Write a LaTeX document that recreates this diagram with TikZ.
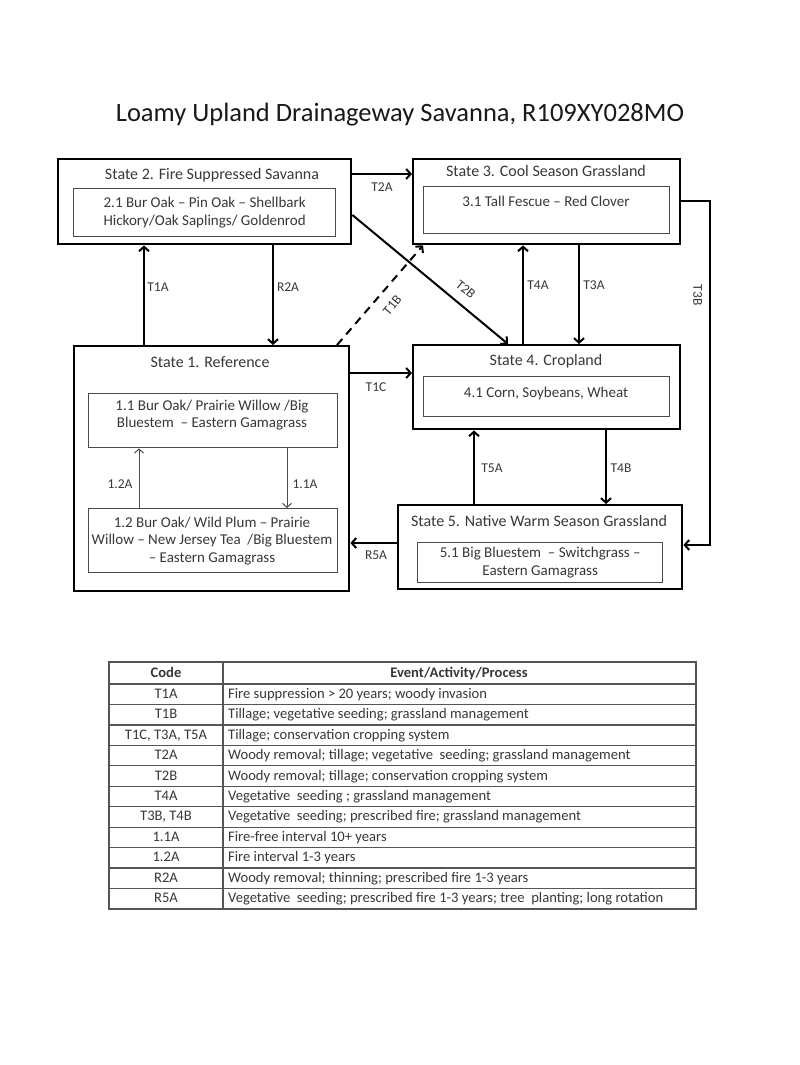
\documentclass[tikz,border=0pt]{standalone}
\usepackage{fontspec}
\setmainfont{Carlito}
\usetikzlibrary{arrows.meta}
\definecolor{txt}{HTML}{383838}
\definecolor{ibox}{HTML}{4A4A4A}
\definecolor{tline}{HTML}{555555}
\newcommand{\TitleFont}{\fontsize{26.5}{30}\selectfont}
\newcommand{\StateFont}{\fontsize{16}{18}\selectfont}
\newcommand{\InFont}{\fontsize{15}{17.8}\selectfont}
\newcommand{\LabFont}{\fontsize{13.5}{15}\selectfont}
\newcommand{\TabFont}{\fontsize{14.6}{16}\selectfont}
\tikzset{
  statebox/.style={draw=black, line width=2.4pt, anchor=north west, inner sep=0pt},
  innerbox/.style={draw=ibox, line width=1.4pt, anchor=north west, inner sep=0pt},
  stitle/.style={text=txt, font=\StateFont, inner sep=0pt, text height=11.5pt, text depth=3.5pt},
  itext/.style={text=txt, font=\InFont, align=center, inner sep=0pt},
  lab/.style={text=txt, font=\LabFont, inner sep=0pt, text height=9.5pt, text depth=0pt},
  arr/.style={line width=2pt, -{Straight Barb[length=4.5pt,width=10pt,line width=2pt]}},
  thinarr/.style={line width=1pt, draw=ibox, -{Straight Barb[length=4pt,width=9pt,line width=1pt]}},
  tcell/.style={text=txt, font=\TabFont, inner sep=0pt, text height=10.5pt, text depth=3pt},
}
\begin{document}
\begin{tikzpicture}[x=1pt,y=-1pt]
\useasboundingbox (0,0) rectangle (800,1065);
\fill[white] (0,0) rectangle (800,1065);

\node[text=black!90, font=\TitleFont, inner sep=0pt] (title) at (400,115) {Loamy Upland Drainageway Savanna, R109XY028MO};

% State 2
\node[statebox, minimum width=293pt, minimum height=85pt] (s2) at (57,158) {};
\node[stitle] (s2t) at (212,175) {State 2. Fire Suppressed Savanna};
\node[innerbox, minimum width=262pt, minimum height=48pt] (s21) at (73,188) {};
\node[itext] (s21t) at (s21.center) {2.1 Bur Oak -- Pin Oak -- Shellbark\\Hickory/Oak Saplings/ Goldenrod};

% State 3
\node[statebox, minimum width=267pt, minimum height=85pt] (s3) at (412,158) {};
\node[stitle] (s3t) at (546,172) {State 3. Cool Season Grassland};
\node[innerbox, minimum width=246pt, minimum height=47pt] (s31) at (423,186) {};
\node[itext] (s31t) at (546,201) {3.1 Tall Fescue -- Red Clover};

% State 1
\node[statebox, minimum width=275pt, minimum height=245pt] (s1) at (73,345) {};
\node[stitle] (s1t) at (210,363) {State 1. Reference};
\node[innerbox, minimum width=249pt, minimum height=54pt] (s11) at (88,393) {};
\node[itext] (s11t) at (212,415) {1.1 Bur Oak/ Prairie Willow /Big\\Bluestem \ -- Eastern Gamagrass};
\node[innerbox, minimum width=249pt, minimum height=64pt] (s12) at (88,508) {};
\node[itext] (s12t) at (212,541) {1.2 Bur Oak/ Wild Plum -- Prairie\\Willow -- New Jersey Tea \ /Big Bluestem\\-- Eastern Gamagrass};

% State 4
\node[statebox, minimum width=267pt, minimum height=84pt] (s4) at (412,344) {};
\node[stitle] (s4t) at (546,361) {State 4. Cropland};
\node[innerbox, minimum width=246pt, minimum height=40pt] (s41) at (423,376) {};
\node[itext] (s41t) at (546,393) {4.1 Corn, Soybeans, Wheat};

% State 5
\node[statebox, minimum width=284pt, minimum height=84pt] (s5) at (397,504) {};
\node[stitle] (s5t) at (539,522) {State 5. Native Warm Season Grassland};
\node[innerbox, minimum width=245pt, minimum height=40pt] (s51) at (417,542) {};
\node[itext] (s51t) at (s51.center) {5.1 Big Bluestem \ -- Switchgrass --\\Eastern Gamagrass};

% Connectors
\draw[arr] (s2.east |- 0,174) -- (s3.west |- 0,174);
\draw[arr] (s1.north -| 144,0) -- (s2.south -| 144,0);
\draw[arr] (s2.south -| 273,0) -- (s1.north -| 273,0);
\draw[arr] (s1.east |- 0,373) -- (s4.west |- 0,373);
\draw[arr] (s5.west |- 0,543) -- (s1.east |- 0,543);
\draw[arr] (s4.north -| 523,0) -- (s3.south -| 523,0);
\draw[arr] (s3.south -| 579,0) -- (s4.north -| 579,0);
\draw[arr] (s5.north -| 474,0) -- (s4.south -| 474,0);
\draw[arr] (s4.south -| 606,0) -- (s5.north -| 606,0);
\draw[arr] (s2.east |- 0,215) -- (s4.north -| 508,0);
\draw[arr, dash pattern=on 8pt off 6pt] (s1.north -| 337,0) -- (s3.south -| 423,0);
\coordinate (c3a) at (710,201);
\coordinate (c3b) at (710,545);
\draw[arr] (s3.east |- c3a) -- (c3a) -- (c3b) -- (s5.east |- c3b);
\draw[thinarr] (s11.south -| 287,0) -- (s12.north -| 287,0);
\draw[thinarr] (s12.north -| 139,0) -- (s11.south -| 139,0);

% Labels
\node[lab] (lT2A) at (382,187) {T2A};
\node[lab] (lT1A) at (158,287) {T1A};
\node[lab] (lR2A) at (288,287) {R2A};
\node[lab] (lT1C) at (376,387) {T1C};
\node[lab] (lR5A) at (376,555) {R5A};
\node[lab] (lT4A) at (538,285) {T4A};
\node[lab] (lT3A) at (594,285) {T3A};
\node[lab] (lT5A) at (492,468) {T5A};
\node[lab] (lT4B) at (621,468) {T4B};
\node[lab] (l12A) at (120,484) {1.2A};
\node[lab] (l11A) at (305,484) {1.1A};
\node[lab, rotate=-90] (lT3B) at (698,295) {T3B};
\node[lab, rotate=-39] (lT2B) at (466,289) {T2B};
\node[lab, rotate=50] (lT1B) at (392,305) {T1B};

% Table
\draw[tline, line width=1.2pt] (109,662) rectangle (696,909);
\draw[tline, line width=1.2pt] (223,662) -- (223,909);
\foreach \i in {0,...,10} {
  \draw[tline, line width=1.2pt] (109,{684+\i*20.45}) -- (696,{684+\i*20.45});
}
\node[tcell, font=\TabFont\bfseries] (h1) at (166,673.5) {Code};
\node[tcell, font=\TabFont\bfseries] (h2) at (459,673.5) {Event/Activity/Process};
\foreach \c/\d [count=\k from 0] in {
  T1A/{Fire suppression > 20 years; woody invasion},
  T1B/{Tillage; vegetative seeding; grassland management},
  {T1C, T3A, T5A}/{Tillage; conservation cropping system},
  T2A/{Woody removal; tillage; vegetative \ seeding; grassland management},
  T2B/{Woody removal; tillage; conservation cropping system},
  T4A/{Vegetative \ seeding ; grassland management},
  {T3B, T4B}/{Vegetative \ seeding; prescribed fire; grassland management},
  1.1A/{Fire-free interval 10+ years},
  1.2A/{Fire interval 1-3 years},
  R2A/{Woody removal; thinning; prescribed fire 1-3 years},
  R5A/{Vegetative \ seeding; prescribed fire 1-3 years; tree \ planting; long rotation}} {
  \node[tcell] (code\k) at (166,{694.5+\k*20.45}) {\c};
  \node[tcell, anchor=west] (desc\k) at (228,{694.5+\k*20.45}) {\d};
}
\end{tikzpicture}
\end{document}
